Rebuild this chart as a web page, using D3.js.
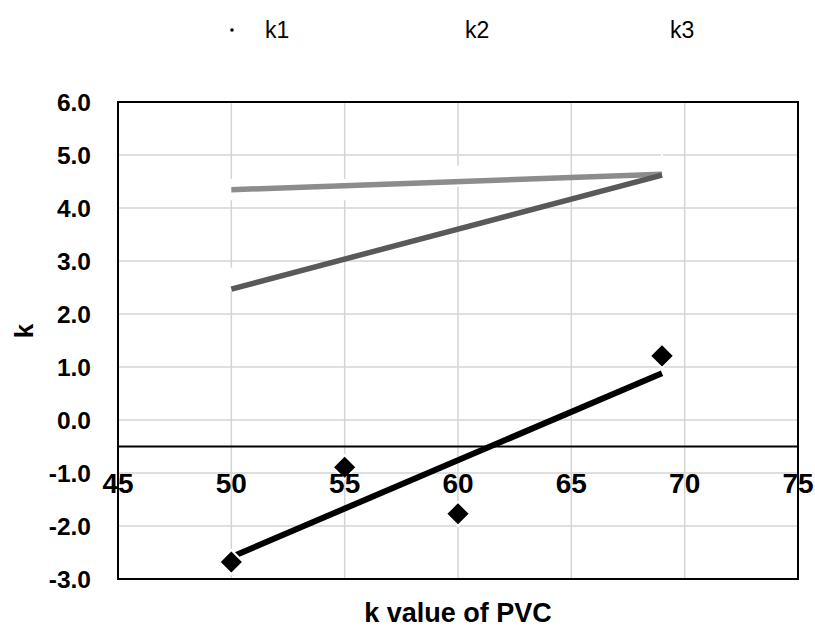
<!DOCTYPE html>
<html lang="en">
<head>
  <meta charset="UTF-8">
  <title>k value of PVC</title>
  <script src="https://cdn.jsdelivr.net/npm/d3@7"></script>
</head>
<style>
  body { margin: 0; background: #fff; }
  svg { display: block; font-family: Arial, "Liberation Sans", sans-serif; }
  .grid line { stroke: #d4d4d4; stroke-width: 1.5; }
</style>
<body>
<svg width="815" height="630"></svg>
<script>
  // values
  const pvc = [50, 55, 60, 69];
  const k1 = [-2.68, -0.89, -1.77, 1.21];
  const k2 = [4.35, 4.35, 4.6, 4.6];
  const pvc3 = [50, 69];
  const k3 = [2.47, 4.62];
  const xTicks = [45, 50, 55, 60, 65, 70, 75];
  const yTicks = [-3, -2, -1, 0, 1, 2, 3, 4, 5, 6];
  const seriesNames = ['k1', 'k2', 'k3'];

  const svg = d3.select('svg');
  const plotL = 118, plotR = 798, plotT = 102, plotB = 579;

  const x = d3.scaleLinear().domain([45, 75]).range([plotL, plotR]);
  const y = d3.scaleLinear().domain([-3, 6]).range([plotB, plotT]);

  // gridlines
  const grid = svg.append('g').attr('class', 'grid');
  grid.selectAll('line.h').data(yTicks).enter().append('line')
    .attr('x1', plotL).attr('x2', plotR)
    .attr('y1', d => y(d)).attr('y2', d => y(d));
  grid.selectAll('line.v').data(xTicks).enter().append('line')
    .attr('y1', plotT).attr('y2', plotB)
    .attr('x1', d => x(d)).attr('x2', d => x(d));

  // white markers of k2 / k3 (only show as gaps in the grid)
  const diamond = h => `M0,${-h}L${h},0L0,${h}L${-h},0Z`;
  svg.selectAll('path.k2').data(pvc).enter().append('path')
    .attr('transform', (d, i) => `translate(${x(d)},${y(k2[i])})`)
    .attr('d', diamond(11)).attr('fill', '#fff');
  svg.selectAll('path.k3').data(pvc3).enter().append('path')
    .attr('transform', (d, i) => `translate(${x(d)},${y(k3[i])})`)
    .attr('d', 'M0,-22L13,2L-13,2Z').attr('fill', '#fff');

  // linear trendlines (least squares on each series)
  function fit(xs, ys) {
    const mx = d3.mean(xs), my = d3.mean(ys);
    let sxy = 0, sxx = 0;
    xs.forEach((v, i) => { sxy += (v - mx) * (ys[i] - my); sxx += (v - mx) * (v - mx); });
    const b = sxy / sxx;
    const x0 = d3.min(xs), x1 = d3.max(xs);
    return [[x0, my + b * (x0 - mx)], [x1, my + b * (x1 - mx)]];
  }
  const line = d3.line().x(d => x(d[0])).y(d => y(d[1]));

  svg.append('path').datum(fit(pvc, k2)).attr('d', line)
    .attr('fill', 'none').attr('stroke', '#8c8c8c').attr('stroke-width', 5.5);
  svg.append('path').datum(fit(pvc3, k3)).attr('d', line)
    .attr('fill', 'none').attr('stroke', '#595959').attr('stroke-width', 5.5);
  svg.append('path').datum(fit(pvc, k1)).attr('d', line)
    .attr('fill', 'none').attr('stroke', '#000').attr('stroke-width', 6);

  svg.selectAll('path.k1').data(pvc).enter().append('path')
    .attr('transform', (d, i) => `translate(${x(d)},${y(k1[i])})`)
    .attr('d', diamond(12)).attr('fill', '#000')
    .attr('stroke', '#fff').attr('stroke-width', 2);

  // plot border and x axis line at k = -0.5
  svg.append('rect').attr('x', plotL).attr('y', plotT)
    .attr('width', plotR - plotL).attr('height', plotB - plotT)
    .attr('fill', 'none').attr('stroke', '#000').attr('stroke-width', 2);
  svg.append('line').attr('x1', plotL).attr('x2', plotR)
    .attr('y1', y(-0.5)).attr('y2', y(-0.5))
    .attr('stroke', '#000').attr('stroke-width', 2);

  // tick labels
  svg.selectAll('text.yt').data(yTicks).enter().append('text')
    .attr('x', 91).attr('y', d => y(d)).attr('dy', '0.36em')
    .attr('text-anchor', 'end').attr('font-weight', 'bold').attr('font-size', 24.5)
    .text(d => d.toFixed(1));
  svg.selectAll('text.xt').data(xTicks).enter().append('text')
    .attr('x', d => x(d)).attr('y', 493)
    .attr('text-anchor', 'middle').attr('font-weight', 'bold').attr('font-size', 28)
    .text(d => d);

  // axis titles
  svg.append('text').attr('x', 458).attr('y', 622)
    .attr('text-anchor', 'middle').attr('font-weight', 'bold').attr('font-size', 27)
    .text('k value of PVC');
  svg.append('text').attr('transform', 'translate(33,331) rotate(-90)')
    .attr('text-anchor', 'middle').attr('font-weight', 'bold').attr('font-size', 26)
    .text('k');

  // legend
  const legX = [232, 432, 637];
  const leg = svg.selectAll('g.leg').data(seriesNames).enter().append('g')
    .attr('transform', (d, i) => `translate(${legX[i]},30)`);
  leg.append('text').attr('x', 33).attr('y', 7.5).attr('font-size', 23).text(d => d);
  leg.filter((d, i) => i === 0).append('circle').attr('r', 1.8).attr('fill', '#000');
  leg.filter((d, i) => i === 2).append('path').attr('d', 'M0,-16L12,9L-12,9Z').attr('fill', '#fff');
</script>
</body>
</html>
